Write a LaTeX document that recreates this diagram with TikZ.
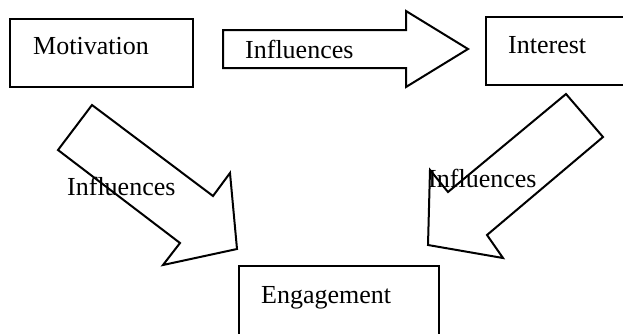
\documentclass[tikz,border=0pt]{standalone}
\usepackage{fontspec}
\setmainfont{Liberation Serif}
\begin{document}
\begin{tikzpicture}[x=1pt,y=-1pt,
  box/.style={draw,line width=2pt,fill=white,inner sep=0pt,outer sep=0pt},
  arr/.style={draw,line width=2pt,fill=white,line join=miter},
  txt/.style={font=\fontsize{26}{30}\selectfont,inner sep=0pt,anchor=base west}]
\useasboundingbox (0,0) rectangle (623,333);
\clip (0,0) rectangle (623,333);
% boxes
\node[box,minimum width=183pt,minimum height=68pt] (mot) at (101.5,53) {};
\node[box,minimum width=150pt,minimum height=68pt] (int) at (561,51) {};
\node[box,minimum width=200pt,minimum height=90pt] (eng) at (339,311) {};
% top arrow
\coordinate (a1) at (223,30);
\draw[arr] (a1) -- (406,30) -- (406,11) -- (468,49) -- (406,87) -- (406,68) -- (223,68) -- cycle;
% left diagonal arrow
\coordinate (b1) at (92,105);
\draw[arr] (b1) -- (213,196) -- (230,173) -- (237,249) -- (163,265) -- (180,243) -- (58,150) -- cycle;
% right diagonal arrow
\coordinate (c1) at (566,94);
\draw[arr] (c1) -- (603,137) -- (487,235) -- (503,258) -- (428,245) -- (430,170) -- (448,192) -- cycle;
% texts
\node[txt] (tmot) at (33,54) {Motivation};
\node[txt] (tint) at (508,53) {Interest};
\node[txt] (teng) at (261,303) {Engagement};
\node[txt] (ta) at (245,58) {Influences};
\node[txt] (tb) at (67,195) {Influences};
\node[txt] (tc) at (428,187) {Influences};
\end{tikzpicture}
\end{document}
